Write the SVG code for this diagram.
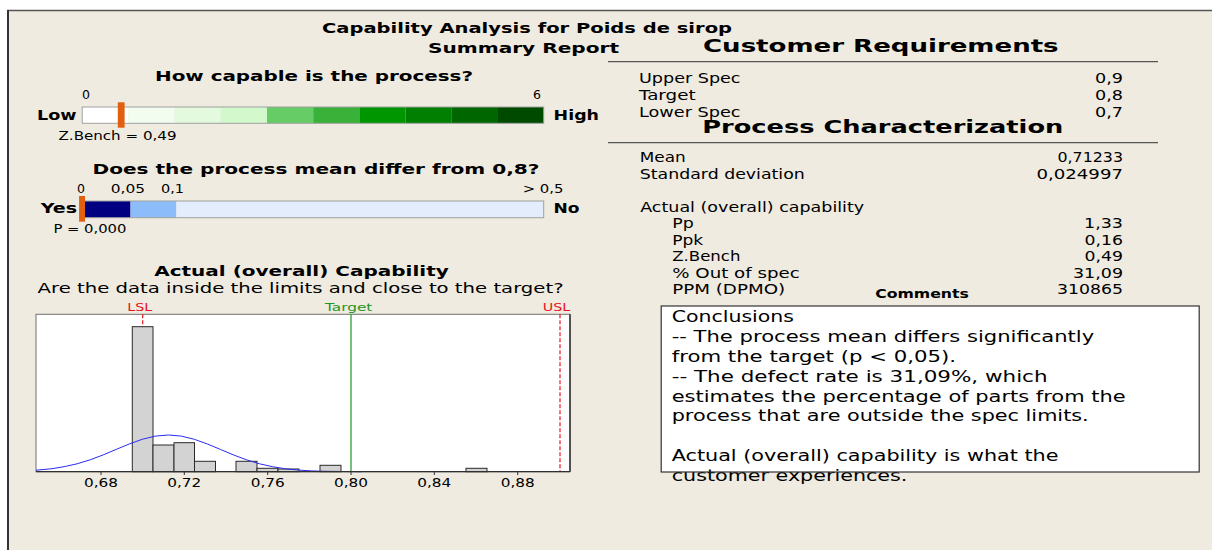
<svg xmlns="http://www.w3.org/2000/svg" width="1212" height="550" viewBox="0 0 1212 550">
  <style>
    text { font-family: "DejaVu Sans", Verdana, sans-serif; fill: #000; }
    .h1 { font-size: 14px; font-weight: bold; }
    .h2 { font-size: 17.5px; font-weight: bold; }
    .sm { font-size: 12.5px; }
    .tb { font-size: 13.5px; }
    .cm { font-size: 16px; }
    .red { fill: #E8141E; font-size: 11px; }
    .grn { fill: #1E961E; font-size: 11px; }
    .bar { fill: #D3D3D3; stroke: #2A2A2A; stroke-width: 1; }
    .rule { stroke: #555; stroke-width: 1.2; }
  </style>

  <!-- page and panel -->
  <rect x="0" y="0" width="1212" height="550" fill="#FFFFFF"/>
  <rect x="8" y="10.5" width="1210" height="545" fill="#EFEBE1"/>
  <line x1="7" y1="10.5" x2="1212" y2="10.5" stroke="#555" stroke-width="1.5"/>
  <line x1="8" y1="10" x2="8" y2="550" stroke="#333" stroke-width="2"/>

  <!-- report title -->
  <g id="title">
    <text class="h1" x="322" y="33" textLength="410" lengthAdjust="spacingAndGlyphs">Capability Analysis for Poids de sirop</text>
    <text class="h1" x="428" y="52.5" textLength="191" lengthAdjust="spacingAndGlyphs">Summary Report</text>
  </g>

  <!-- capability meter -->
  <g id="capability-meter">
    <text class="h1" x="155" y="80.5" textLength="318" lengthAdjust="spacingAndGlyphs">How capable is the process?</text>
    <text class="sm" x="86" y="99" text-anchor="middle">0</text>
    <text class="sm" x="537" y="99" text-anchor="middle">6</text>
    <text class="h1" x="37" y="119.5" textLength="39.5" lengthAdjust="spacingAndGlyphs">Low</text>
    <text class="h1" x="553.6" y="119.5" textLength="45.4" lengthAdjust="spacingAndGlyphs">High</text>
    <rect x="82.2" y="107" width="46.2" height="16.3" fill="#FFFFFF"/>
    <rect x="128.4" y="107" width="46.2" height="16.3" fill="#F2FDF0"/>
    <rect x="174.6" y="107" width="46.2" height="16.3" fill="#E3FADF"/>
    <rect x="220.8" y="107" width="46.2" height="16.3" fill="#D2F8CC"/>
    <rect x="267" y="107" width="46.2" height="16.3" fill="#66CC66"/>
    <rect x="313.2" y="107" width="46.2" height="16.3" fill="#3AB23A"/>
    <rect x="359.4" y="107" width="46.2" height="16.3" fill="#009600"/>
    <rect x="405.6" y="107" width="46.2" height="16.3" fill="#007F00"/>
    <rect x="451.8" y="107" width="46.2" height="16.3" fill="#006600"/>
    <rect x="498" y="107" width="45.7" height="16.3" fill="#004A00"/>
    <rect x="82.2" y="107" width="461.5" height="16.3" fill="none" stroke="#A0A0A0" stroke-width="1"/>
    <rect x="117.8" y="102.3" width="6.8" height="25.4" fill="#E0600F"/>
    <text class="sm" x="58.5" y="140" textLength="118" lengthAdjust="spacingAndGlyphs">Z.Bench = 0,49</text>
  </g>

  <!-- mean test meter -->
  <g id="mean-meter">
    <text class="h1" x="92.5" y="174" textLength="447" lengthAdjust="spacingAndGlyphs">Does the process mean differ from 0,8?</text>
    <text class="sm" x="81" y="193" text-anchor="middle">0</text>
    <text class="sm" x="110.7" y="193" textLength="34.3" lengthAdjust="spacingAndGlyphs">0,05</text>
    <text class="sm" x="161" y="193" textLength="23" lengthAdjust="spacingAndGlyphs">0,1</text>
    <text class="sm" x="522.7" y="193" textLength="40.8" lengthAdjust="spacingAndGlyphs">&gt; 0,5</text>
    <text class="h1" x="40.7" y="213.3" textLength="36.4" lengthAdjust="spacingAndGlyphs">Yes</text>
    <text class="h1" x="553.6" y="213.3" textLength="26" lengthAdjust="spacingAndGlyphs">No</text>
    <rect x="82.2" y="201" width="48.3" height="16.7" fill="#000080"/>
    <rect x="130.5" y="201" width="45.9" height="16.7" fill="#8CBCFA"/>
    <rect x="176.4" y="201" width="367.3" height="16.7" fill="#E3EDFB"/>
    <rect x="82.2" y="201" width="461.5" height="16.7" fill="none" stroke="#A0A0A0" stroke-width="1"/>
    <rect x="79.1" y="196" width="5.9" height="25.7" fill="#E0600F"/>
    <text class="sm" x="53.4" y="233.3" textLength="73" lengthAdjust="spacingAndGlyphs">P = 0,000</text>
  </g>

  <!-- histogram of measured values -->
  <g id="histogram">
    <text class="h1" x="154.2" y="275.5" textLength="294.6" lengthAdjust="spacingAndGlyphs">Actual (overall) Capability</text>
    <text x="37.6" y="293" font-size="14" textLength="526" lengthAdjust="spacingAndGlyphs">Are the data inside the limits and close to the target?</text>
    <text class="red" x="127.3" y="310.5" textLength="25" lengthAdjust="spacingAndGlyphs">LSL</text>
    <text class="grn" x="325" y="310.5" textLength="47.3" lengthAdjust="spacingAndGlyphs">Target</text>
    <text class="red" x="542.7" y="310.5" textLength="27.7" lengthAdjust="spacingAndGlyphs">USL</text>

    <rect x="36" y="314.3" width="534" height="157.4" fill="#FFFFFF" stroke="#707070" stroke-width="1"/>
    <line x1="570" y1="314.3" x2="570" y2="471.7" stroke="#202020" stroke-width="1.3"/>

    <!-- spec limits behind the bars -->
    <line x1="142.7" y1="314.3" x2="142.7" y2="471.7" stroke="#E8141E" stroke-width="1.2" stroke-dasharray="4,2"/>
    <line x1="560" y1="314.3" x2="560" y2="471.7" stroke="#E8141E" stroke-width="1.2" stroke-dasharray="4,2"/>

    <rect class="bar" x="132.3" y="326.7" width="20.7" height="145"/>
    <rect class="bar" x="153" y="445" width="21" height="26.7"/>
    <rect class="bar" x="174" y="442.7" width="20.5" height="29"/>
    <rect class="bar" x="194.5" y="461.3" width="21" height="10.4"/>
    <rect class="bar" x="236" y="461.3" width="21" height="10.4"/>
    <rect class="bar" x="257" y="468.3" width="21" height="3.4"/>
    <rect class="bar" x="278" y="469" width="21" height="2.7"/>
    <rect class="bar" x="320" y="465.3" width="21" height="6.4"/>
    <rect class="bar" x="466" y="468.3" width="21" height="3.4"/>

    <line x1="351" y1="314.3" x2="351" y2="471.7" stroke="#2E9E2E" stroke-width="1.3"/>

    <!-- fitted normal curve -->
    <path d="M36,470.2 L51.1,468.8 L64.1,466.7 L77.1,463.8 L90.2,459.8 L103.2,454.9 L116.2,449.4 L129.2,444 L142.2,439.3 L155.3,436.1 L168.3,435 L181.3,436.1 L194.4,439.3 L207.4,444 L220.4,449.4 L233.4,454.9 L246.5,459.8 L259.5,463.8 L272.5,466.7 L285.5,468.8 L298.5,470.1 L311.6,470.9 L324.6,471.3 L350.7,471.6 L362,471.7" fill="none" stroke="#2B2BF0" stroke-width="1"/>

    <line x1="36" y1="471.7" x2="570" y2="471.7" stroke="#303030" stroke-width="1.3"/>
    <g stroke="#303030" stroke-width="1">
      <line x1="101" y1="472" x2="101" y2="475"/>
      <line x1="184.3" y1="472" x2="184.3" y2="475"/>
      <line x1="267.7" y1="472" x2="267.7" y2="475"/>
      <line x1="351" y1="472" x2="351" y2="475"/>
      <line x1="434.3" y1="472" x2="434.3" y2="475"/>
      <line x1="517.7" y1="472" x2="517.7" y2="475"/>
    </g>
    <text class="sm" x="84" y="487" textLength="34" lengthAdjust="spacingAndGlyphs">0,68</text>
    <text class="sm" x="167.3" y="487" textLength="34" lengthAdjust="spacingAndGlyphs">0,72</text>
    <text class="sm" x="250.7" y="487" textLength="34" lengthAdjust="spacingAndGlyphs">0,76</text>
    <text class="sm" x="334" y="487" textLength="34" lengthAdjust="spacingAndGlyphs">0,80</text>
    <text class="sm" x="417.3" y="487" textLength="34" lengthAdjust="spacingAndGlyphs">0,84</text>
    <text class="sm" x="500.7" y="487" textLength="34" lengthAdjust="spacingAndGlyphs">0,88</text>
  </g>

  <!-- customer requirements table -->
  <g id="customer-requirements">
    <text class="h2" x="703" y="52.3" textLength="355.6" lengthAdjust="spacingAndGlyphs">Customer Requirements</text>
    <line class="rule" x1="608" y1="61.7" x2="1158" y2="61.7"/>
    <text class="tb" x="639" y="82.7" textLength="101.5" lengthAdjust="spacingAndGlyphs">Upper Spec</text>
    <text class="tb" x="639" y="99.7" textLength="56.6" lengthAdjust="spacingAndGlyphs">Target</text>
    <text class="tb" x="639" y="116.7" textLength="101.5" lengthAdjust="spacingAndGlyphs">Lower Spec</text>
    <text class="tb" x="1123" y="82.7" text-anchor="end" textLength="28" lengthAdjust="spacingAndGlyphs">0,9</text>
    <text class="tb" x="1123" y="99.7" text-anchor="end" textLength="28" lengthAdjust="spacingAndGlyphs">0,8</text>
    <text class="tb" x="1123" y="116.7" text-anchor="end" textLength="28" lengthAdjust="spacingAndGlyphs">0,7</text>
  </g>

  <!-- process characterization table -->
  <g id="process-characterization">
    <text class="h2" x="702.3" y="133.3" textLength="361" lengthAdjust="spacingAndGlyphs">Process Characterization</text>
    <line class="rule" x1="608" y1="142.7" x2="1158" y2="142.7"/>
    <text class="tb" x="639.8" y="162.3" textLength="46" lengthAdjust="spacingAndGlyphs">Mean</text>
    <text class="tb" x="1123" y="162.3" text-anchor="end" textLength="65.5" lengthAdjust="spacingAndGlyphs">0,71233</text>
    <text class="tb" x="639.8" y="179" textLength="165" lengthAdjust="spacingAndGlyphs">Standard deviation</text>
    <text class="tb" x="1123" y="179" text-anchor="end" textLength="86.6" lengthAdjust="spacingAndGlyphs">0,024997</text>
    <text class="tb" x="640.2" y="211.7" textLength="224" lengthAdjust="spacingAndGlyphs">Actual (overall) capability</text>
    <text class="tb" x="672.2" y="228.2" textLength="21.5" lengthAdjust="spacingAndGlyphs">Pp</text>
    <text class="tb" x="1123" y="228.2" text-anchor="end" textLength="39" lengthAdjust="spacingAndGlyphs">1,33</text>
    <text class="tb" x="672.2" y="244.7" textLength="31" lengthAdjust="spacingAndGlyphs">Ppk</text>
    <text class="tb" x="1123" y="244.7" text-anchor="end" textLength="38.5" lengthAdjust="spacingAndGlyphs">0,16</text>
    <text class="tb" x="672.2" y="261.2" textLength="68.3" lengthAdjust="spacingAndGlyphs">Z.Bench</text>
    <text class="tb" x="1123" y="261.2" text-anchor="end" textLength="38.5" lengthAdjust="spacingAndGlyphs">0,49</text>
    <text class="tb" x="672.2" y="277.7" textLength="127.6" lengthAdjust="spacingAndGlyphs">% Out of spec</text>
    <text class="tb" x="1123" y="277.7" text-anchor="end" textLength="50" lengthAdjust="spacingAndGlyphs">31,09</text>
    <text class="tb" x="672.2" y="294.3" textLength="113" lengthAdjust="spacingAndGlyphs">PPM (DPMO)</text>
    <text class="tb" x="1123" y="294.3" text-anchor="end" textLength="66" lengthAdjust="spacingAndGlyphs">310865</text>
  </g>

  <!-- comments box -->
  <g id="comments">
    <text x="875.2" y="298.3" font-size="12" font-weight="bold" textLength="93.7" lengthAdjust="spacingAndGlyphs">Comments</text>
    <rect x="661.2" y="306" width="538" height="166" fill="#FFFFFF"/>
    <text class="cm" x="671.7" y="322.3" textLength="122.3" lengthAdjust="spacingAndGlyphs">Conclusions</text>
    <text class="cm" x="671.7" y="342.1" textLength="422.5" lengthAdjust="spacingAndGlyphs">-- The process mean differs significantly</text>
    <text class="cm" x="671.7" y="361.9" textLength="284.3" lengthAdjust="spacingAndGlyphs">from the target (p &lt; 0,05).</text>
    <text class="cm" x="671.7" y="381.7" textLength="375.8" lengthAdjust="spacingAndGlyphs">-- The defect rate is 31,09%, which</text>
    <text class="cm" x="671.7" y="401.5" textLength="453.9" lengthAdjust="spacingAndGlyphs">estimates the percentage of parts from the</text>
    <text class="cm" x="671.7" y="421.3" textLength="417" lengthAdjust="spacingAndGlyphs">process that are outside the spec limits.</text>
    <text class="cm" x="671.7" y="460.9" textLength="386.8" lengthAdjust="spacingAndGlyphs">Actual (overall) capability is what the</text>
    <text class="cm" x="671.7" y="480.7" textLength="235.7" lengthAdjust="spacingAndGlyphs">customer experiences.</text>
    <rect x="661.2" y="306" width="538" height="166" fill="none" stroke="#333" stroke-width="1.2"/>
  </g>
</svg>
